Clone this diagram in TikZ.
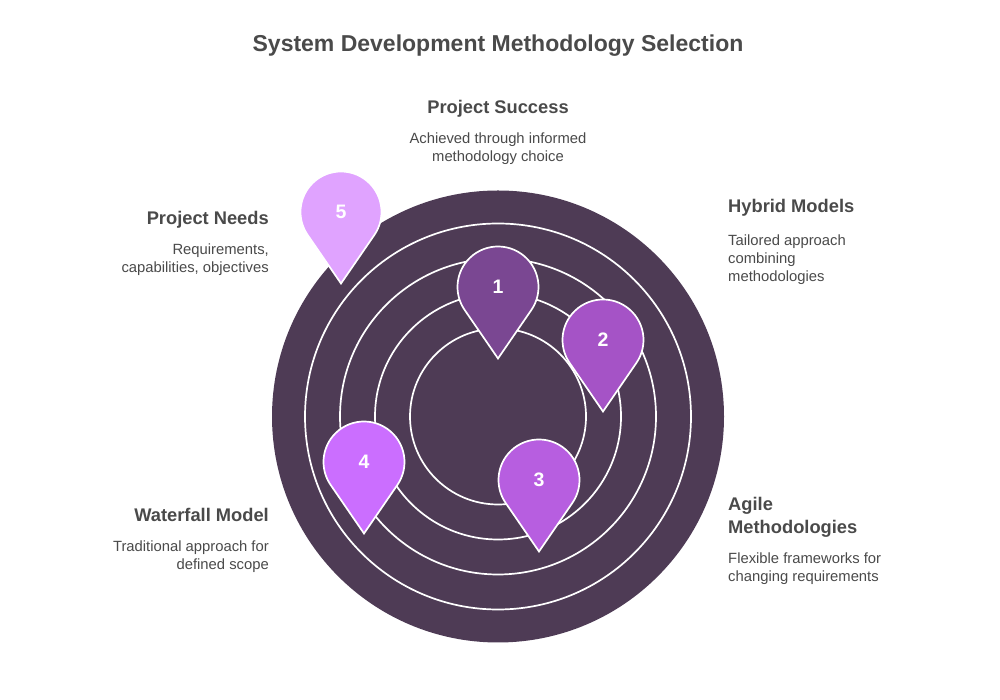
\documentclass[tikz,border=0pt]{standalone}
\usepackage{fontspec}
\setmainfont{Liberation Sans}
\definecolor{ringdark}{HTML}{4E3B55}
\definecolor{textgrey}{HTML}{4A4A4A}
\definecolor{pinone}{HTML}{7A4792}
\definecolor{pintwo}{HTML}{A553C6}
\definecolor{pinthree}{HTML}{B75EE0}
\definecolor{pinfour}{HTML}{CB6EFF}
\definecolor{pinfive}{HTML}{E0A3FF}
\newcommand{\droppin}[4]{
\draw[pinline,fill=#4,shift={(#2,#3)}] (0,-71.5) -- (-35:40.5) arc (-35:215:40.5) -- cycle;
\node[pinnum] (pin#1) at (#2,#3) {#1};
}
\begin{document}
\begin{tikzpicture}[x=1pt,y=1pt]
\tikzstyle{every node}=[inner sep=0pt,text=textgrey];
\tikzstyle{ringline}=[draw=white,line width=1.7pt];
\tikzstyle{pinline}=[draw=white,line width=1.7pt];
\tikzstyle{pinnum}=[text=white,font=\fontsize{19.5}{20}\selectfont\bfseries];
\tikzstyle{headtext}=[font=\fontsize{18.3}{23}\selectfont\bfseries];
\tikzstyle{bodytext}=[font=\fontsize{14.8}{18}\selectfont];
\useasboundingbox[fill=white] (0,0) rectangle (1000,700);
\node[font=\fontsize{23}{28}\selectfont\bfseries] (title) at (498,654.5) {System Development Methodology Selection};
\fill[ringdark] (498,283.5) circle (226);
\draw[ringline] (498,283.5) circle (193);
\draw[ringline] (498,283.5) circle (158);
\draw[ringline] (498,283.5) circle (123);
\draw[ringline] (498,283.5) circle (88);
\droppin{1}{498}{413}{pinone}
\droppin{2}{603}{360}{pintwo}
\droppin{3}{539}{220}{pinthree}
\droppin{4}{364}{238}{pinfour}
\droppin{5}{341}{488}{pinfive}
\node[headtext] (success) at (498,591) {Project Success};
\node[bodytext,align=center] (successbody) at (498,551) {Achieved through informed\\methodology choice};
\node[headtext,anchor=east] (needs) at (269,480) {Project Needs};
\node[bodytext,align=right,anchor=east] (needsbody) at (269,440) {Requirements,\\capabilities, objectives};
\node[headtext,anchor=west] (hybrid) at (728,492) {Hybrid Models};
\node[bodytext,align=left,anchor=west] (hybridbody) at (728,440.5) {Tailored approach\\combining\\methodologies};
\node[headtext,align=left,anchor=west] (agile) at (728,183) {Agile\\Methodologies};
\node[bodytext,align=left,anchor=west] (agilebody) at (728,131) {Flexible frameworks for\\changing requirements};
\node[headtext,anchor=east] (waterfall) at (269,185) {Waterfall Model};
\node[bodytext,align=right,anchor=east] (waterfallbody) at (269,143) {Traditional approach for\\defined scope};
\end{tikzpicture}
\end{document}
